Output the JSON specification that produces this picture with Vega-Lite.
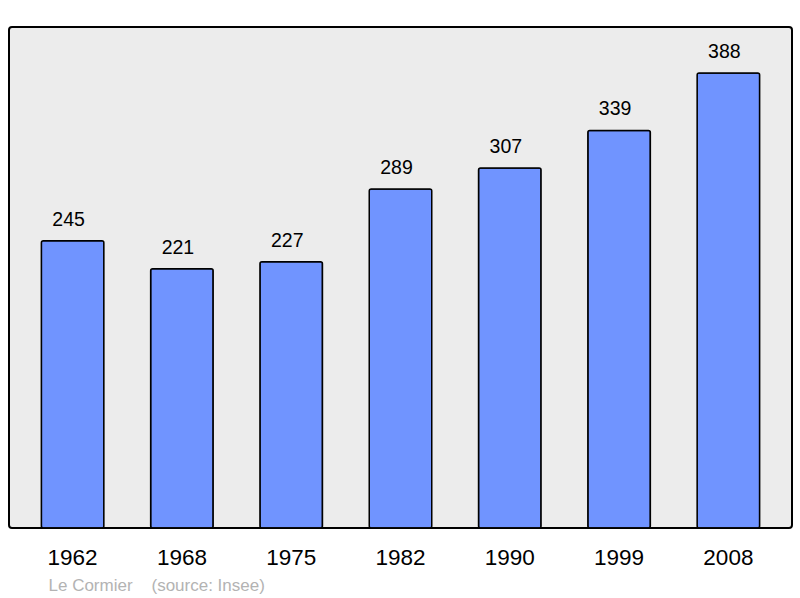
{
  "$schema": "https://vega.github.io/schema/vega-lite/v6.json",
  "autosize": "none",
  "width": 783,
  "height": 501,
  "padding": {"left": 9, "top": 27, "right": 8, "bottom": 70},
  "background": "#ffffff",
  "config": {
    "font": "Liberation Sans",
    "view": {"fill": "#ececec", "stroke": "#000000", "strokeWidth": 2, "cornerRadius": 3}
  },
  "data": {
    "values": [
      {"year": "1962", "pop": 245},
      {"year": "1968", "pop": 221},
      {"year": "1975", "pop": 227},
      {"year": "1982", "pop": 289},
      {"year": "1990", "pop": 307},
      {"year": "1999", "pop": 339},
      {"year": "2008", "pop": 388}
    ]
  },
  "encoding": {
    "x": {
      "field": "year",
      "type": "nominal",
      "sort": null,
      "scale": {"paddingInner": 0.428, "paddingOuter": 0.296},
      "axis": {
        "title": "Le Cormier\u00a0\u00a0\u00a0\u00a0(source: Insee)",
        "titleFont": "Liberation Sans",
        "titleFontSize": 17,
        "titleFontWeight": "normal",
        "titleColor": "#b3b3b3",
        "titleAlign": "left",
        "titleAnchor": "start",
        "titleBaseline": "alphabetic",
        "titleX": 39,
        "titleY": 62,
        "labelAngle": 0,
        "labelFontSize": 22.5,
        "labelColor": "#000000",
        "labelPadding": 36,
        "labelBaseline": "alphabetic",
        "ticks": false,
        "domain": false,
        "grid": false
      }
    },
    "y": {
      "field": "pop",
      "type": "quantitative",
      "scale": {"domain": [0, 427.2], "nice": false},
      "axis": null
    }
  },
  "layer": [
    {
      "mark": {"type": "bar", "fill": "#7094ff", "stroke": "#000000", "strokeWidth": 1.5, "cornerRadius": 2}
    },
    {
      "mark": {"type": "text", "dy": -15, "dx": -4, "baseline": "alphabetic", "fontSize": 19.5, "color": "#000000"},
      "encoding": {"text": {"field": "pop", "type": "quantitative"}}
    }
  ]
}
